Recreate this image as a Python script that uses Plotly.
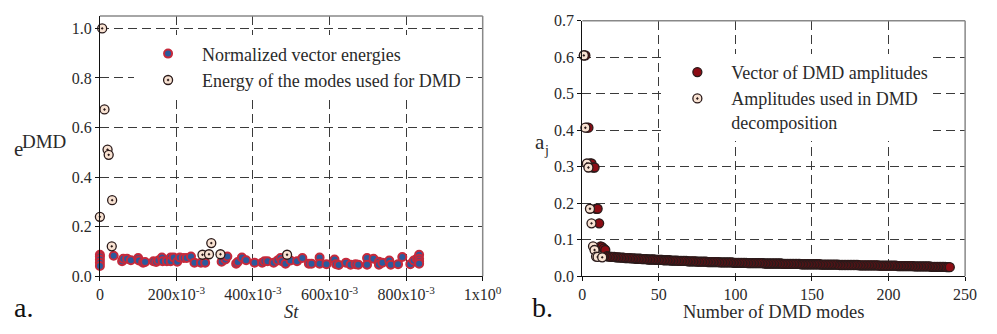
import plotly.graph_objects as go

# ---------------- Left panel data ----------------
st_all = [0.000, 0.000, 0.000, 0.000, 0.000, 0.036, 0.058, 0.061, 0.071, 0.081,
          0.100, 0.102, 0.113, 0.118, 0.140, 0.147, 0.153, 0.162, 0.164, 0.175,
          0.185, 0.185, 0.193, 0.202, 0.209, 0.219, 0.227, 0.238, 0.247, 0.264,
          0.275, 0.318, 0.328, 0.333, 0.356, 0.360, 0.371, 0.382, 0.404, 0.424,
          0.430, 0.438, 0.454, 0.464, 0.472, 0.476, 0.485, 0.498, 0.515, 0.529,
          0.546, 0.553, 0.574, 0.574, 0.592, 0.613, 0.617, 0.624, 0.643, 0.655,
          0.668, 0.675, 0.698, 0.698, 0.715, 0.729, 0.729, 0.738, 0.756, 0.760,
          0.779, 0.790, 0.811, 0.820, 0.828, 0.834, 0.834, 0.834, 0.834]
e_all = [0.087, 0.080, 0.068, 0.055, 0.042, 0.083, 0.061, 0.071, 0.071, 0.065,
         0.074, 0.064, 0.055, 0.058, 0.061, 0.058, 0.064, 0.076, 0.061, 0.061,
         0.076, 0.061, 0.076, 0.059, 0.076, 0.074, 0.074, 0.080, 0.055, 0.055,
         0.055, 0.059, 0.068, 0.080, 0.051, 0.058, 0.076, 0.065, 0.055, 0.055,
         0.061, 0.061, 0.055, 0.064, 0.074, 0.061, 0.051, 0.064, 0.061, 0.074,
         0.051, 0.051, 0.076, 0.051, 0.049, 0.068, 0.049, 0.046, 0.055, 0.047,
         0.049, 0.047, 0.074, 0.047, 0.071, 0.059, 0.047, 0.055, 0.064, 0.047,
         0.049, 0.078, 0.049, 0.064, 0.071, 0.087, 0.071, 0.061, 0.051]

st_used = [0.000, 0.006, 0.012, 0.020, 0.023, 0.032, 0.031, 0.268, 0.285, 0.291, 0.315, 0.489]
e_used = [0.240, 1.000, 0.673, 0.511, 0.490, 0.307, 0.121, 0.087, 0.089, 0.134, 0.089, 0.087]

x_tickvals = [0, 0.2, 0.4, 0.6, 0.8, 1.0]
x_ticktext = ["0", "200x10<sup>-3</sup>", "400x10<sup>-3</sup>", "600x10<sup>-3</sup>",
              "800x10<sup>-3</sup>", "1x10<sup>0</sup>"]
y1_tickvals = [0.0, 0.2, 0.4, 0.6, 0.8, 1.0]
y1_ticktext = ["0.0", "0.2", "0.4", "0.6", "0.8", "1.0"]

# ---------------- Right panel data ----------------
amp_all = [0.605, 0.605, 0.407, 0.407, 0.309, 0.309, 0.298, 0.298, 0.185, 0.185,
           0.145, 0.082, 0.080, 0.076, 0.072,
           0.055, 0.054, 0.054, 0.053, 0.053, 0.053, 0.052, 0.052, 0.052, 0.051,
           0.051, 0.051, 0.050, 0.050, 0.050, 0.050, 0.049, 0.049, 0.049, 0.048,
           0.048, 0.048, 0.048, 0.047, 0.047, 0.047, 0.047, 0.046, 0.046, 0.046,
           0.046, 0.046, 0.045, 0.045, 0.045, 0.045, 0.045, 0.044, 0.044, 0.044,
           0.044, 0.044, 0.043, 0.043, 0.043, 0.043, 0.043, 0.042, 0.042, 0.042,
           0.042, 0.042, 0.042, 0.041, 0.041, 0.041, 0.041, 0.041, 0.041, 0.040,
           0.040, 0.040, 0.040, 0.040, 0.040, 0.040, 0.039, 0.039, 0.039, 0.039,
           0.039, 0.039, 0.039, 0.039, 0.038, 0.038, 0.038, 0.038, 0.038, 0.038,
           0.038, 0.038, 0.038, 0.037, 0.037, 0.037, 0.037, 0.037, 0.037, 0.037,
           0.037, 0.037, 0.036, 0.036, 0.036, 0.036, 0.036, 0.036, 0.036, 0.036,
           0.036, 0.036, 0.036, 0.035, 0.035, 0.035, 0.035, 0.035, 0.035, 0.035,
           0.035, 0.035, 0.035, 0.035, 0.035, 0.034, 0.034, 0.034, 0.034, 0.034,
           0.034, 0.034, 0.034, 0.034, 0.034, 0.034, 0.034, 0.033, 0.033, 0.033,
           0.033, 0.033, 0.033, 0.033, 0.033, 0.033, 0.033, 0.033, 0.033, 0.033,
           0.032, 0.032, 0.032, 0.032, 0.032, 0.032, 0.032, 0.032, 0.032, 0.032,
           0.032, 0.032, 0.031, 0.031, 0.031, 0.031, 0.031, 0.031, 0.031, 0.031,
           0.031, 0.031, 0.031, 0.031, 0.031, 0.030, 0.030, 0.030, 0.030, 0.030,
           0.030, 0.030, 0.030, 0.030, 0.030, 0.030, 0.030, 0.030, 0.029, 0.029,
           0.029, 0.029, 0.029, 0.029, 0.029, 0.029, 0.029, 0.029, 0.029, 0.029,
           0.028, 0.028, 0.028, 0.028, 0.028, 0.028, 0.028, 0.028, 0.028, 0.028,
           0.028, 0.027, 0.027, 0.027, 0.027, 0.027, 0.027, 0.027, 0.027, 0.027,
           0.027, 0.027, 0.026, 0.026, 0.026, 0.026, 0.026, 0.026, 0.026, 0.026,
           0.026, 0.026, 0.025, 0.025, 0.025]
modes_all = list(range(1, len(amp_all) + 1))

modes_used = [1, 2, 3, 4, 5, 6, 7, 8, 9, 10, 13]
amp_used = [0.605, 0.407, 0.309, 0.298, 0.185, 0.145, 0.082, 0.072, 0.054, 0.053, 0.052]

x2_tickvals = [0, 50, 100, 150, 200, 250]
y2_tickvals = [0.0, 0.1, 0.2, 0.3, 0.4, 0.5, 0.6, 0.7]
y2_ticktext = ["0.0", "0.1", "0.2", "0.3", "0.4", "0.5", "0.6", "0.7"]

# ---------------- Styling ----------------
# The page keeps the browser's 8px body margin, so the figure is 16px smaller than
# the 997x334 window and positions below are given in window pixels (offset by 8).
OFF = 8
FW, FH = 997 - 2 * OFF, 334 - 2 * OFF
FONT = "Liberation Serif, Times New Roman, serif"
TXT = "#2a2a2a"
BLUE = "#2b5a9c"
RED_EDGE = "#c62a3c"
PEACH = "#f8e2d2"
DARK_EDGE = "#2a1a1a"
DARK_RED = "#8c0c14"

def fx(p):
    return (p - OFF) / FW

def fy(p):
    return 1 - (p - OFF) / FH

fig = go.Figure()

fig.add_trace(go.Scatter(
    x=st_all, y=e_all, mode="markers", name="Normalized vector energies",
    marker=dict(color=BLUE, size=8, line=dict(color=RED_EDGE, width=2)),
    xaxis="x", yaxis="y", legend="legend", cliponaxis=False))
fig.add_trace(go.Scatter(
    x=st_used, y=e_used, mode="markers", name="Energy of the modes used for DMD",
    marker=dict(color=PEACH, size=9, symbol="circle-dot", line=dict(color=DARK_EDGE, width=1.3)),
    xaxis="x", yaxis="y", legend="legend", cliponaxis=False))
fig.add_trace(go.Scatter(
    x=modes_all, y=amp_all, mode="markers", name="Vector of DMD amplitudes",
    marker=dict(color=DARK_RED, size=9, line=dict(color=DARK_EDGE, width=1.3)),
    xaxis="x2", yaxis="y2", legend="legend2", cliponaxis=False))
fig.add_trace(go.Scatter(
    x=modes_used, y=amp_used, mode="markers", name="Amplitudes used in DMD<br>decomposition",
    marker=dict(color=PEACH, size=9, symbol="circle-dot", line=dict(color=DARK_EDGE, width=1.3)),
    xaxis="x2", yaxis="y2", legend="legend2", cliponaxis=False))

tickfont = dict(family=FONT, size=16, color=TXT)
common = dict(showgrid=True, gridcolor="#3a3a3a", griddash="9px,5px", gridwidth=1,
              zeroline=False, showline=True, linecolor="#111", linewidth=1,
              ticks="outside", ticklen=4, tickcolor="#111", tickfont=tickfont,
              ticklabeloverflow="allow")

legfont = dict(family=FONT, size=18, color=TXT)
fig.update_layout(
    width=FW, height=FH, margin=dict(l=0, r=0, t=0, b=0),
    paper_bgcolor="white", plot_bgcolor="white",
    font=dict(family=FONT, color=TXT),
    xaxis=dict(domain=[fx(98), fx(490)], range=[0, 1.0001], tickvals=x_tickvals,
               ticktext=x_ticktext, anchor="y", **common),
    yaxis=dict(domain=[fy(283), fy(8)], range=[0, 1.05], tickvals=y1_tickvals,
               ticktext=y1_ticktext, anchor="x", **common),
    xaxis2=dict(domain=[fx(592), fx(984)], range=[0, 250.01], tickvals=x2_tickvals,
                anchor="y2", **common),
    yaxis2=dict(domain=[fy(283), fy(13)], range=[0, 0.7001], tickvals=y2_tickvals,
                ticktext=y2_ticktext, anchor="x2", **common),
    legend=dict(x=fx(133), y=fy(28.5), xanchor="left", yanchor="top",
                bgcolor="white", borderwidth=0, itemwidth=58,
                font=legfont, tracegroupgap=0),
    legend2=dict(x=fx(675), y=fy(48), xanchor="left", yanchor="top",
                 bgcolor="white", borderwidth=0, valign="top", itemwidth=58,
                 font=legfont, tracegroupgap=0),
    showlegend=True,
)

# top/right frame lines in gray
for xa, ya in (("x", "y"), ("x2", "y2")):
    fig.add_shape(type="line", xref=f"{xa} domain", yref=f"{ya} domain",
                  x0=0, x1=1, y0=1, y1=1, line=dict(color="#888", width=1.5))
    fig.add_shape(type="line", xref=f"{xa} domain", yref=f"{ya} domain",
                  x0=1, x1=1, y0=0, y1=1, line=dict(color="#888", width=1.5))

def note(text, x, y, size, anchor="left", color=TXT):
    fig.add_annotation(text=text, x=fx(x), y=fy(y), xref="paper", yref="paper",
                       showarrow=False, font=dict(family=FONT, size=size, color=color),
                       xanchor=anchor, yanchor="middle")

note("<i>St</i>", 294, 320.5, 18.5, "center")
note("Number of DMD modes", 788, 320.5, 18.5, "center")
# y-axis title of panel a: "e" with raised "DMD"
note("e", 8.5, 148.5, 21)
note("DMD", 16.5, 140.5, 19)
# y-axis title of panel b: "a" with subscript "j"
note("a", 542, 141, 21)
note("j", 551, 150, 14)
# panel letters
note("a.", 8, 315.5, 28, color="#111")
note("b.", 538, 315.5, 28, color="#111")

fig.write_html("out.html", config={"displayModeBar": False})
